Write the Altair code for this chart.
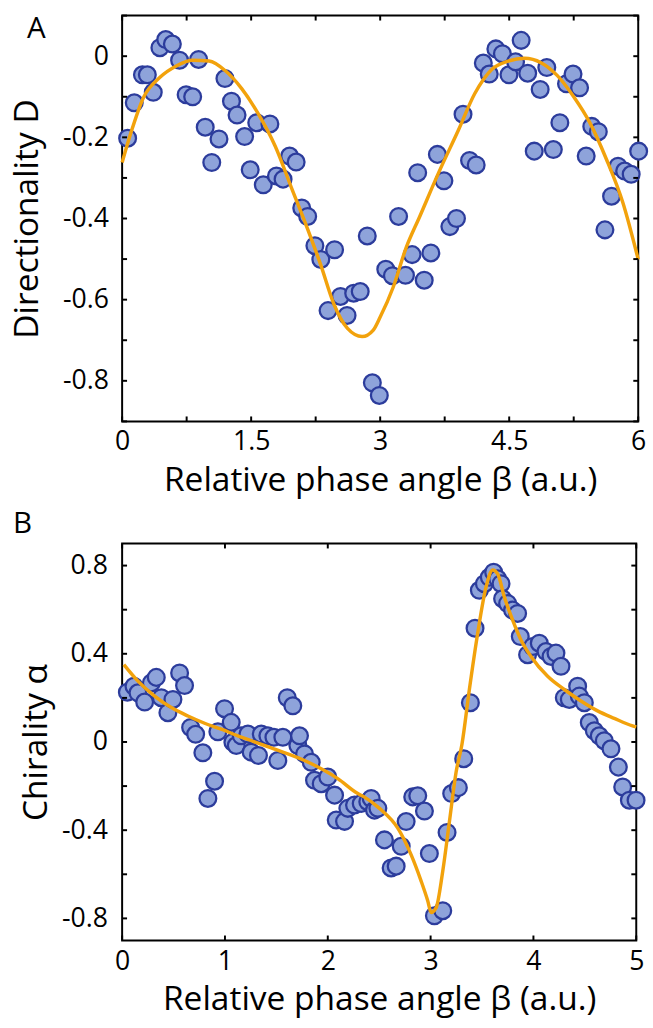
import altair as alt
import pandas as pd

# ---------------- Panel A data ----------------
a_pts_x = [0.064, 0.141, 0.236, 0.293, 0.362, 0.439, 0.507, 0.584, 0.668, 0.744,
           0.820, 0.889, 0.966, 1.042, 1.126, 1.195, 1.271, 1.336, 1.424, 1.489,
           1.565, 1.641, 1.718, 1.794, 1.871, 1.947, 2.023, 2.088, 2.157, 2.241,
           2.310, 2.394, 2.470, 2.539, 2.615, 2.692, 2.768, 2.850, 2.909, 2.990,
           3.065, 3.142, 3.214, 3.294, 3.371, 3.436, 3.512, 3.589, 3.665, 3.741,
           3.810, 3.887, 3.963, 4.039, 4.116, 4.199, 4.268, 4.345, 4.421, 4.497,
           4.574, 4.639, 4.715, 4.791, 4.860, 4.937, 5.013, 5.089, 5.166, 5.242,
           5.318, 5.395, 5.460, 5.536, 5.613, 5.690, 5.765, 5.842, 5.918, 6.005]
a_pts_y = [-0.202, -0.115, -0.046, -0.046, -0.089, 0.021, 0.041, 0.030, -0.010, -0.095,
           -0.100, -0.008, -0.175, -0.262, -0.204, -0.055, -0.111, -0.145, -0.198, -0.280,
           -0.164, -0.317, -0.167, -0.295, -0.303, -0.246, -0.261, -0.374, -0.395, -0.467,
           -0.501, -0.627, -0.477, -0.592, -0.639, -0.584, -0.580, -0.443, -0.805, -0.836,
           -0.525, -0.541, -0.395, -0.540, -0.489, -0.287, -0.552, -0.485, -0.242, -0.307,
           -0.420, -0.400, -0.143, -0.257, -0.268, -0.017, -0.044, 0.018, 0.006, -0.046,
           -0.014, 0.039, -0.042, -0.234, -0.082, -0.028, -0.230, -0.164, -0.068, -0.044,
           -0.078, -0.246, -0.173, -0.186, -0.428, -0.345, -0.271, -0.283, -0.291, -0.234]
a_fit_x = [0.00, 0.10, 0.25, 0.44, 0.63, 0.82, 1.01, 1.20, 1.39, 1.58, 1.78, 1.97,
           2.16, 2.31, 2.46, 2.62, 2.79, 2.92, 3.00, 3.15, 3.30, 3.46, 3.68, 3.91,
           4.10, 4.30, 4.49, 4.68, 4.87, 5.06, 5.25, 5.44, 5.63, 5.82, 6.00]
a_fit_y = [-0.262, -0.190, -0.101, -0.052, -0.024, -0.010, -0.012, -0.036, -0.080, -0.141,
           -0.222, -0.325, -0.428, -0.515, -0.610, -0.671, -0.691, -0.675, -0.643, -0.570,
           -0.473, -0.395, -0.287, -0.182, -0.092, -0.032, -0.012, -0.005, -0.016, -0.048,
           -0.100, -0.165, -0.254, -0.360, -0.501]
a_x_labels = [0, 1.5, 3, 4.5, 6]
a_y_labels = [-0.8, -0.6, -0.4, -0.2, 0]
a_x_ticks = [0, 0.75, 1.5, 2.25, 3, 3.75, 4.5, 5.25, 6]
a_y_ticks = [-0.9, -0.8, -0.7, -0.6, -0.5, -0.4, -0.3, -0.2, -0.1, 0, 0.1]

# ---------------- Panel B data ----------------
b_pts_x = [0.051, 0.115, 0.154, 0.219, 0.284, 0.332, 0.381, 0.445, 0.494, 0.559,
           0.607, 0.666, 0.715, 0.785, 0.834, 0.899, 0.931, 0.996, 1.061, 1.077,
           1.110, 1.158, 1.223, 1.255, 1.326, 1.353, 1.417, 1.476, 1.514, 1.563,
           1.606, 1.660, 1.709, 1.725, 1.774, 1.839, 1.871, 1.936, 2.000, 2.066,
           2.082, 2.163, 2.195, 2.260, 2.325, 2.389, 2.422, 2.454, 2.487, 2.551,
           2.616, 2.665, 2.714, 2.762, 2.826, 2.875, 2.940, 2.988, 3.037, 3.118,
           3.160, 3.205, 3.270, 3.322, 3.387, 3.432, 3.474, 3.523, 3.571, 3.613,
           3.652, 3.685, 3.700, 3.749, 3.797, 3.846, 3.872, 3.943, 3.992, 4.057,
           4.122, 4.171, 4.219, 4.268, 4.300, 4.349, 4.430, 4.446, 4.495, 4.543,
           4.592, 4.640, 4.689, 4.754, 4.826, 4.868, 4.933, 4.998]
b_pts_y = [0.226, 0.253, 0.223, 0.181, 0.268, 0.293, 0.201, 0.133, 0.193, 0.313,
           0.256, 0.066, 0.035, -0.049, -0.256, -0.178, 0.046, 0.151, 0.089, -0.001,
           -0.016, 0.028, 0.036, -0.046, -0.061, 0.036, 0.028, 0.021, -0.084, 0.021,
           0.201, 0.164, -0.016, 0.028, -0.054, -0.092, -0.174, -0.189, -0.159, -0.241,
           -0.354, -0.360, -0.301, -0.286, -0.279, -0.271, -0.256, -0.309, -0.301, -0.444,
           -0.571, -0.563, -0.473, -0.361, -0.249, -0.244, -0.313, -0.506, -0.788, -0.765,
           -0.410, -0.234, -0.207, -0.076, 0.178, 0.516, 0.688, 0.718, 0.747, 0.770,
           0.740, 0.718, 0.650, 0.628, 0.598, 0.583, 0.478, 0.396, 0.433, 0.448,
           0.410, 0.388, 0.403, 0.343, 0.201, 0.193, 0.253, 0.208, 0.178, 0.088,
           0.051, 0.028, 0.006, -0.031, -0.114, -0.204, -0.264, -0.264]
b_fit_x = [0.017, 0.154, 0.316, 0.478, 0.640, 0.802, 0.964, 1.125, 1.287, 1.450,
           1.774, 2.097, 2.292, 2.357, 2.500, 2.681, 2.810, 2.908, 2.972, 3.005,
           3.054, 3.118, 3.183, 3.248, 3.305, 3.377, 3.458, 3.539, 3.604, 3.652,
           3.717, 3.798, 3.879, 3.976, 4.138, 4.300, 4.462, 4.624, 4.786, 4.964, 5.000]
b_fit_y = [0.351, 0.276, 0.208, 0.156, 0.118, 0.085, 0.058, 0.028, 0.001, -0.027,
           -0.084, -0.166, -0.234, -0.250, -0.300, -0.391, -0.511, -0.631, -0.720, -0.773,
           -0.751, -0.586, -0.361, -0.136, -0.010, 0.238, 0.493, 0.702, 0.780, 0.762,
           0.658, 0.553, 0.463, 0.388, 0.298, 0.238, 0.186, 0.141, 0.107, 0.073, 0.068]
b_x_labels = [0, 1, 2, 3, 4, 5]
b_y_labels = [-0.8, -0.4, 0, 0.4, 0.8]
b_x_ticks = [0, 1, 2, 3, 4, 5]
b_y_ticks = [-0.8, -0.6, -0.4, -0.2, 0, 0.2, 0.4, 0.6, 0.8]

FONT = "Open Sans"
FILL = "#8EA3DA"
EDGE = "#2C3C9C"
LINE = "#F2A20C"
TICK = 5


def panel(px, py, fx, fy, xdom, ydom, xlab, ylab, xt, yt, W, H,
          xtitle, ytitle, letter, lx, ly, ylp, ytp):
    xs = alt.Scale(domain=xdom, nice=False, zero=False)
    ys = alt.Scale(domain=ydom, nice=False, zero=False)
    xaxis = alt.Axis(values=xlab, labelExpr="'' + datum.value", ticks=False, tickSize=0,
                     domain=False, grid=False, labelFlush=False, labelFontSize=27,
                     labelFont=FONT, labelColor="black", labelPadding=8,
                     title=xtitle, titleFont=FONT, titleFontSize=34,
                     titleFontWeight="normal", titleColor="black", titlePadding=9)
    yaxis = alt.Axis(values=ylab, labelExpr="'' + datum.value", ticks=False, tickSize=0,
                     domain=False, grid=False, labelFlush=False, labelFontSize=27,
                     labelFont=FONT, labelColor="black", labelPadding=ylp,
                     title=ytitle, titleFont=FONT, titleFontSize=34,
                     titleFontWeight="normal", titleColor="black", titlePadding=ytp)
    pts = pd.DataFrame({"x": px, "y": py})
    fit = pd.DataFrame({"x": fx, "y": fy})
    xtk = pd.DataFrame({"x": xt})
    ytk = pd.DataFrame({"y": yt})

    points = alt.Chart(pts).mark_circle(size=290, fill=FILL, stroke=EDGE,
                                         strokeWidth=2.3, opacity=1).encode(
        x=alt.X("x:Q", scale=xs, axis=xaxis),
        y=alt.Y("y:Q", scale=ys, axis=yaxis))
    line = alt.Chart(fit).mark_line(color=LINE, strokeWidth=3.5,
                                    interpolate="monotone").encode(
        x=alt.X("x:Q", scale=xs), y=alt.Y("y:Q", scale=ys))
    tb = alt.Chart(xtk).mark_rule(color="black", strokeWidth=2).encode(
        x=alt.X("x:Q", scale=xs), y=alt.value(H), y2=alt.value(H - TICK))
    tt = alt.Chart(xtk).mark_rule(color="black", strokeWidth=2).encode(
        x=alt.X("x:Q", scale=xs), y=alt.value(0), y2=alt.value(TICK))
    tl = alt.Chart(ytk).mark_rule(color="black", strokeWidth=2).encode(
        y=alt.Y("y:Q", scale=ys), x=alt.value(0), x2=alt.value(TICK))
    tr = alt.Chart(ytk).mark_rule(color="black", strokeWidth=2).encode(
        y=alt.Y("y:Q", scale=ys), x=alt.value(W), x2=alt.value(W - TICK))
    let = alt.Chart(pd.DataFrame({"t": [letter]})).mark_text(
        font=FONT, fontSize=30, color="black", align="center", baseline="middle").encode(
        text="t:N", x=alt.value(lx), y=alt.value(ly))
    return alt.layer(points, line, tb, tt, tl, tr, let).properties(width=W, height=H)


pA = panel(a_pts_x, a_pts_y, a_fit_x, a_fit_y, [0, 6], [-0.9, 0.1], a_x_labels, a_y_labels,
           a_x_ticks, a_y_ticks, 524, 412, "Relative phase angle β (a.u.)",
           "Directionality D", "A", -87, 14, 14, 18)
pB = panel(b_pts_x, b_pts_y, b_fit_x, b_fit_y, [0, 5], [-0.9, 0.9], b_x_labels, b_y_labels,
           b_x_ticks, b_y_ticks, 522, 403, "Relative phase angle β (a.u.)",
           "Chirality α", "B", -101, -20, 15, 8)

chart = alt.vconcat(pA, pB, spacing=10).properties(
    padding={"left": 10, "top": 6, "right": 0, "bottom": 0},
    background="white"
).configure_view(stroke="black", strokeWidth=2)

chart.save("out.html", embed_options={"renderer": "svg", "actions": False})
